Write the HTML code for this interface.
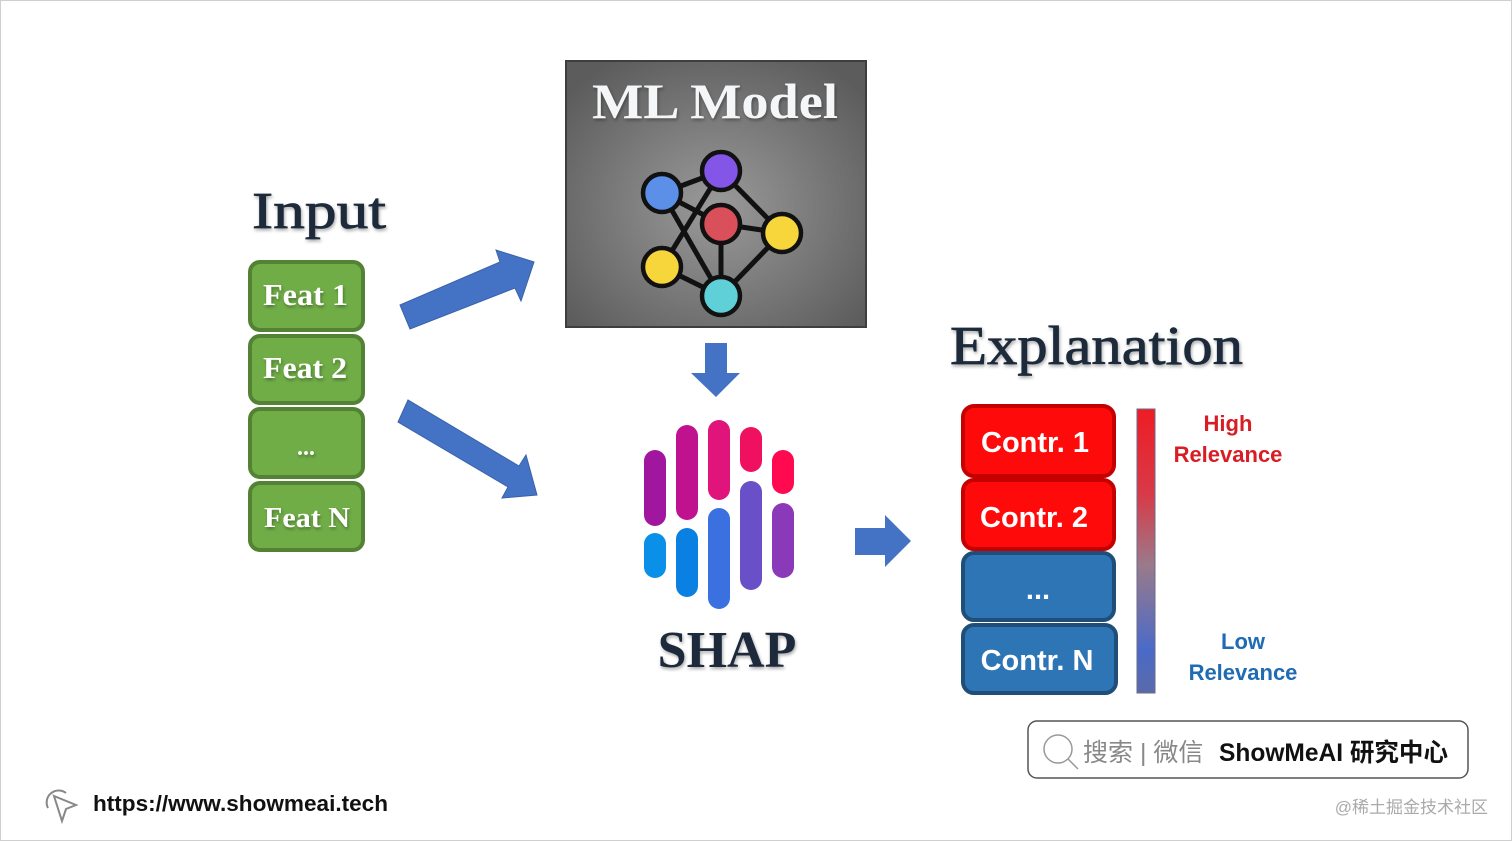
<!DOCTYPE html>
<html><head><meta charset="utf-8"><style>
html,body{margin:0;padding:0;background:#fff}
svg{display:block}
.serif{font-family:"Liberation Serif","DejaVu Serif",serif}
.sans{font-family:"Liberation Sans","DejaVu Sans",sans-serif}
</style></head><body>
<svg width="1512" height="841" viewBox="0 0 1512 841" xmlns="http://www.w3.org/2000/svg">
<defs>
<radialGradient id="mg" cx="0.5" cy="0.55" r="0.65">
<stop offset="0" stop-color="#9a9a9a"/><stop offset="1" stop-color="#5c5c5c"/>
</radialGradient>
<linearGradient id="bar" x1="0" y1="0" x2="0" y2="1">
<stop offset="0" stop-color="#ee1c24"/><stop offset="0.3" stop-color="#d83a48"/>
<stop offset="0.55" stop-color="#9a7a8a"/><stop offset="0.85" stop-color="#4a6ac8"/><stop offset="1" stop-color="#5a6aa8"/>
</linearGradient>
<filter id="sh" x="-10%" y="-10%" width="120%" height="130%"><feDropShadow dx="1" dy="2" stdDeviation="1.5" flood-opacity="0.35"/></filter>
</defs>
<rect x="0.5" y="0.5" width="1511" height="840" fill="#fff" stroke="#cfcfcf"/>

<!-- Input -->
<text x="252" y="228" class="serif" font-size="52" fill="#1e2a3a" stroke="#1e2a3a" stroke-width="0.8" textLength="134" lengthAdjust="spacingAndGlyphs" filter="url(#sh)">Input</text>
<g stroke="#548235" stroke-width="4" fill="#70ad47">
<rect x="250" y="262" width="113" height="68" rx="10"/>
<rect x="250" y="336" width="113" height="67" rx="10"/>
<rect x="250" y="409" width="113" height="68" rx="10"/>
<rect x="250" y="483" width="113" height="67" rx="10"/>
</g>
<g class="serif" font-size="31" font-weight="bold" fill="#fff" filter="url(#sh)">
<text x="263" y="305" textLength="85" lengthAdjust="spacingAndGlyphs">Feat 1</text>
<text x="263" y="378" textLength="84" lengthAdjust="spacingAndGlyphs">Feat 2</text>
<text x="306" y="455" font-size="24" text-anchor="middle">...</text>
<text x="264" y="527" font-size="29" textLength="86" lengthAdjust="spacingAndGlyphs">Feat N</text>
</g>

<!-- arrows from input -->
<polygon fill="#4472c4" stroke="#3a62aa" stroke-width="1" points="400,305 500,262 496,250 534,262 521,301 515,288 410,329"/>
<polygon fill="#4472c4" stroke="#3a62aa" stroke-width="1" points="408,400 398,422 508,487 502,498 537,495 526,455 519,466"/>

<!-- ML Model -->
<rect x="566" y="61" width="300" height="266" fill="url(#mg)" stroke="#3e3e3e" stroke-width="2"/>
<text x="592" y="118" class="serif" font-size="50" font-weight="bold" fill="#f4f6f8" textLength="246" lengthAdjust="spacingAndGlyphs" filter="url(#sh)">ML Model</text>
<g stroke="#111" stroke-width="5">
<line x1="662" y1="193" x2="721" y2="171"/>
<line x1="662" y1="193" x2="721" y2="224"/>
<line x1="662" y1="193" x2="721" y2="296"/>
<line x1="721" y1="171" x2="662" y2="267"/>
<line x1="721" y1="171" x2="782" y2="233"/>
<line x1="721" y1="224" x2="782" y2="233"/>
<line x1="721" y1="224" x2="721" y2="296"/>
<line x1="662" y1="267" x2="721" y2="296"/>
<line x1="782" y1="233" x2="721" y2="296"/>
</g>
<g stroke="#111" stroke-width="4.5">
<circle cx="662" cy="193" r="19" fill="#5b8fe8"/>
<circle cx="721" cy="171" r="19" fill="#8456e8"/>
<circle cx="721" cy="224" r="19" fill="#d9505a"/>
<circle cx="782" cy="233" r="19" fill="#f6d63a"/>
<circle cx="662" cy="267" r="19" fill="#f6d63a"/>
<circle cx="721" cy="296" r="19" fill="#5fcfd8"/>
</g>

<!-- down arrow -->
<polygon fill="#4472c4" points="705,343 727,343 727,373 740,373 716,397 691,373 705,373"/>

<!-- SHAP logo -->
<g stroke-linecap="round" stroke-width="22">
<line x1="655" y1="461" x2="655" y2="515" stroke="#a0169f"/>
<line x1="655" y1="544" x2="655" y2="567" stroke="#0a90e8"/>
<line x1="687" y1="436" x2="687" y2="509" stroke="#c0128f"/>
<line x1="687" y1="539" x2="687" y2="586" stroke="#0a80e2"/>
<line x1="719" y1="431" x2="719" y2="489" stroke="#e0147a"/>
<line x1="719" y1="519" x2="719" y2="598" stroke="#3a70e0"/>
<line x1="751" y1="438" x2="751" y2="461" stroke="#f01060"/>
<line x1="751" y1="492" x2="751" y2="579" stroke="#6a50c8"/>
<line x1="783" y1="461" x2="783" y2="483" stroke="#ff0a50"/>
<line x1="783" y1="514" x2="783" y2="567" stroke="#8a3ab8"/>
</g>
<text x="727" y="667" class="serif" font-size="52" font-weight="bold" fill="#1e2a3a" text-anchor="middle" filter="url(#sh)">SHAP</text>

<!-- right arrow -->
<polygon fill="#4472c4" points="855,528 885,528 885,515 911,541 885,567 885,555 855,555"/>

<!-- Explanation -->
<text x="950" y="364" class="serif" font-size="55" fill="#1e2a3a" stroke="#1e2a3a" stroke-width="0.8" textLength="293" lengthAdjust="spacingAndGlyphs" filter="url(#sh)">Explanation</text>
<g stroke-width="4">
<rect x="963" y="406" width="151" height="70" rx="11" fill="#ff0a0a" stroke="#c40000"/>
<rect x="963" y="480" width="151" height="69" rx="11" fill="#ff0a0a" stroke="#c40000"/>
<rect x="963" y="553" width="151" height="67" rx="11" fill="#2e75b6" stroke="#1f4e79"/>
<rect x="963" y="625" width="153" height="68" rx="11" fill="#2e75b6" stroke="#1f4e79"/>
</g>
<g class="sans" font-size="29" fill="#fff" text-anchor="middle" font-weight="bold">
<text x="1035" y="452">Contr. 1</text>
<text x="1034" y="527">Contr. 2</text>
<text x="1038" y="599">...</text>
<text x="1037" y="670">Contr. N</text>
</g>
<rect x="1137" y="409" width="18" height="284" fill="url(#bar)" stroke="#6a6a8a" stroke-width="1"/>
<g class="sans" font-size="22" font-weight="bold" text-anchor="middle">
<text x="1228" y="431" fill="#d81e24">High</text>
<text x="1228" y="462" fill="#d81e24">Relevance</text>
<text x="1243" y="649" fill="#1f6bb4">Low</text>
<text x="1243" y="680" fill="#1f6bb4">Relevance</text>
</g>

<!-- search box -->
<rect x="1028" y="721" width="440" height="57" rx="9" fill="#fff" stroke="#555" stroke-width="1.5"/>
<circle cx="1058" cy="749" r="14" fill="none" stroke="#999" stroke-width="1.5"/>
<line x1="1068" y1="759" x2="1078" y2="769" stroke="#999" stroke-width="1.5"/>
<text x="1083" y="761" font-family="'Liberation Sans','Noto Sans CJK SC',sans-serif" font-size="25" fill="#888">搜索 | 微信</text>
<text x="1219" y="761" font-family="'Liberation Sans','Noto Sans CJK SC',sans-serif" font-size="25" font-weight="bold" fill="#111" textLength="229" lengthAdjust="spacingAndGlyphs">ShowMeAI 研究中心</text>
<text x="1488" y="813" font-family="'Liberation Sans','Noto Sans CJK SC',sans-serif" font-size="17" fill="#aaa" text-anchor="end">@稀土掘金技术社区</text>

<!-- url -->
<g fill="none" stroke="#888" stroke-width="2">
<path d="M48,808 a12,12 0 0 1 18,-15"/>
<path d="M54,796 L76,805 L66,809 L62,821 Z"/>
</g>
<text x="93" y="811" class="sans" font-size="22" fill="#111" font-weight="bold" textLength="295" lengthAdjust="spacingAndGlyphs">https://www.showmeai.tech</text>
</svg>
</body></html>
